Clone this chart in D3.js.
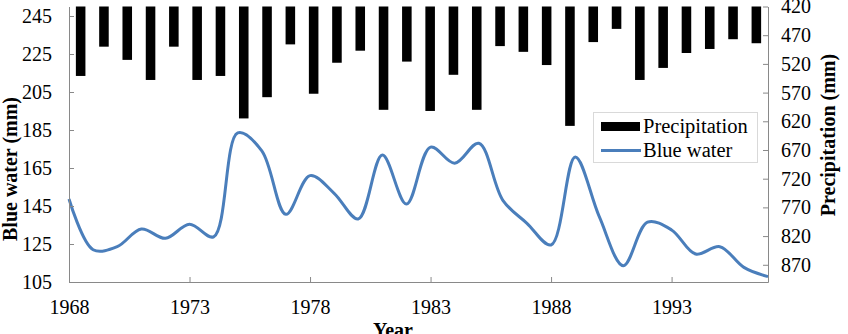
<!DOCTYPE html>
<html>
<head>
<meta charset="utf-8">
<script src="https://cdn.jsdelivr.net/npm/d3@7"></script>
<style>
	body { margin: 0; background: #fff; }
	svg { display: block; font-family: "Liberation Serif", "Times New Roman", serif; }
</style>
</head>
<body>
<div id="chart"></div>
<script>
(function () {
	'use strict';

	// data
	var years = d3.range(1968, 1998);
	var precipitation = [541, 490, 513, 548, 490, 548, 541, 615, 578, 486,
		572, 518, 497, 600, 516, 602, 539, 600, 489, 499,
		522, 628, 482, 459, 548, 527, 501, 494, 477, 484];
	var blueWater = [148.7, 122, 123.6, 132.9, 128, 135.4, 128.8, 183.5, 174, 140.6,
		161, 151.7, 138.2, 171.8, 146, 176, 167.5, 178, 148, 135.9,
		124.5, 170.8, 139.4, 113.6, 136.5, 132.4, 119.7, 123.6, 112.7, 107.8];
	var blueTicks = [105, 125, 145, 165, 185, 205, 225, 245];
	var precipTicks = [420, 470, 520, 570, 620, 670, 720, 770, 820, 870];
	var yearTicks = [1968, 1973, 1978, 1983, 1988, 1993];

	var width = 848, height = 334;
	var margin = {top: 6.5, right: 80, bottom: 52, left: 69};
	var axisColor = "#898989";
	var lineColor = "#4a7ebb";

	var svg = d3.select("#chart")
		.append("svg")
		.attr("width", width)
		.attr("height", height);

	var x = d3.scaleLinear()
		.domain([1968, 1997])
		.range([margin.left, width - margin.right]);

	// bars sit in category slots across the whole plot width
	var xBand = d3.scaleBand()
		.domain(years)
		.range([margin.left, width - margin.right])
		.paddingInner(0.59)
		.paddingOuter(0.295);

	var yBlue = d3.scaleLinear()
		.domain([105, 250])
		.range([height - margin.bottom, margin.top]);

	var yPrecip = d3.scaleLinear()
		.domain([420, 900])
		.range([margin.top, height - margin.bottom]);

	// precipitation bars hanging from the top
	svg.append("g")
		.selectAll("rect")
		.data(precipitation)
		.enter()
			.append("rect")
			.attr("x", function(d, i){return xBand(years[i]);})
			.attr("y", yPrecip(420))
			.attr("width", xBand.bandwidth())
			.attr("height", function(d){return yPrecip(d) - yPrecip(420);})
			.attr("fill", "#000");

	// blue water line
	var line = d3.line()
		.x(function(d, i){return x(years[i]);})
		.y(function(d){return yBlue(d);})
		.curve(d3.curveCatmullRom.alpha(0.5));

	svg.append("path")
		.datum(blueWater)
		.attr("d", line)
		.attr("fill", "none")
		.attr("stroke", lineColor)
		.attr("stroke-width", 3);

	// axes, ticks pointing inward
	var styleAxis = function(g) {
		g.select(".domain").attr("stroke", axisColor);
		g.selectAll(".tick line").attr("stroke", axisColor);
		g.selectAll(".tick text")
			.attr("fill", "#000")
			.style("font-size", "20px")
			.style("font-family", "Liberation Serif, Times New Roman, serif");
	};

	svg.append("g")
		.attr("transform", "translate(" + margin.left + ",0)")
		.call(d3.axisRight(yBlue).tickValues(blueTicks).tickSize(5).tickSizeOuter(0).tickFormat(d3.format("d")))
		.call(styleAxis)
		.call(function(g){
			g.selectAll(".tick text").attr("x", -17).attr("text-anchor", "end");
		});

	svg.append("g")
		.attr("transform", "translate(" + (width - margin.right) + ",0)")
		.call(d3.axisLeft(yPrecip).tickValues(precipTicks).tickSize(5).tickSizeOuter(0).tickFormat(d3.format("d")))
		.call(styleAxis)
		.call(function(g){
			g.selectAll(".tick text").attr("x", 13).attr("text-anchor", "start");
		});

	svg.append("g")
		.attr("transform", "translate(0," + (height - margin.bottom) + ")")
		.call(d3.axisTop(x).tickValues(yearTicks).tickSize(5).tickSizeOuter(0).tickFormat(d3.format("d")))
		.call(styleAxis)
		.call(function(g){
			g.selectAll(".tick text").attr("y", 32).attr("dy", 0);
		});

	// axis titles
	svg.append("text")
		.attr("transform", "translate(17,169) rotate(-90)")
		.attr("text-anchor", "middle")
		.style("font-size", "20px")
		.style("font-weight", "bold")
		.text("Blue water (mm)");

	svg.append("text")
		.attr("transform", "translate(835,135) rotate(-90)")
		.attr("text-anchor", "middle")
		.style("font-size", "20px")
		.style("font-weight", "bold")
		.text("Precipitation (mm)");

	svg.append("text")
		.attr("x", 393)
		.attr("y", 337)
		.attr("text-anchor", "middle")
		.style("font-size", "20px")
		.style("font-weight", "bold")
		.text("Year");

	// legend
	var legend = svg.append("g");
	legend.append("rect")
		.attr("x", 593.5)
		.attr("y", 112.5)
		.attr("width", 164)
		.attr("height", 50)
		.attr("fill", "#fff")
		.attr("stroke", "#d9d9d9");
	legend.append("rect")
		.attr("x", 601)
		.attr("y", 122)
		.attr("width", 39)
		.attr("height", 9)
		.attr("fill", "#000");
	legend.append("line")
		.attr("x1", 601)
		.attr("x2", 641)
		.attr("y1", 150.5)
		.attr("y2", 150.5)
		.attr("stroke", lineColor)
		.attr("stroke-width", 3);
	legend.selectAll("text")
		.data(["Precipitation", "Blue water"])
		.enter()
			.append("text")
			.attr("x", 643)
			.attr("y", function(d, i){return 133 + i * 24;})
			.style("font-size", "20.5px")
			.text(function(d){return d;});

}());
</script>
</body>
</html>
